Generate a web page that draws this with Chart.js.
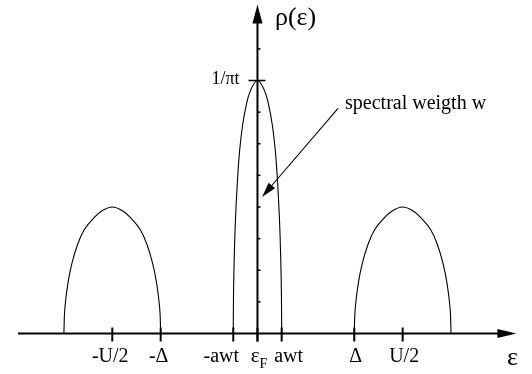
<!DOCTYPE html>
<html><head><meta charset="utf-8">
<script src="https://cdn.jsdelivr.net/npm/chart.js@4/dist/chart.umd.min.js"></script>
<style>html,body{margin:0;padding:0;background:#fff;} canvas{display:block}</style>
</head><body>
<canvas id="c" width="532" height="374"></canvas>
<script>
// ---- data (x in units of awt, y in units of 1/(pi t)) ----
const centralBandX = [-1.0, -0.99, -0.96, -0.91, -0.83, -0.74, -0.62, -0.47, -0.29, 0, 0.29, 0.47, 0.62, 0.74, 0.83, 0.91, 0.96, 0.99, 1.0];
const centralBandY = [0, 0.15, 0.3, 0.45, 0.6, 0.72, 0.82, 0.9, 0.96, 1.0, 0.96, 0.9, 0.82, 0.72, 0.6, 0.45, 0.3, 0.15, 0];
const lowerBandX = [-8.0, -7.96, -7.83, -7.66, -7.44, -7.16, -6.78, -6.42, -6.0, -5.58, -5.22, -4.84, -4.56, -4.34, -4.17, -4.04, -4.0];
const lowerBandY = [0, 0.1, 0.2, 0.28, 0.35, 0.41, 0.455, 0.485, 0.5, 0.485, 0.455, 0.41, 0.35, 0.28, 0.2, 0.1, 0];
const upperBandX = [4.0, 4.04, 4.17, 4.34, 4.56, 4.84, 5.22, 5.58, 6.0, 6.42, 6.78, 7.16, 7.44, 7.66, 7.83, 7.96, 8.0];
const upperBandY = [0, 0.1, 0.2, 0.28, 0.35, 0.41, 0.455, 0.485, 0.5, 0.485, 0.455, 0.41, 0.35, 0.28, 0.2, 0.1, 0];

const xTickValues = [-6, -4, -1, 0, 1, 4, 6];
const xTickLabels = ['-U/2', '-Δ', '-awt', 'ε_F', 'awt', 'Δ', 'U/2'];
const yTickValues = [1];
const yTickLabels = ['1/πt'];
const yMinorTickValues = [0.125, 0.25, 0.375, 0.5, 0.625, 0.75, 0.875, 1.125];
const xAxisTitle = 'ε';
const yAxisTitle = 'ρ(ε)';
const annotationText = 'spectral weigth w';

const toPts = (xs, ys) => xs.map((v, i) => ({x: v, y: ys[i]}));
const lineStyle = {borderColor: '#000', borderWidth: 1.1, pointRadius: 0, showLine: true, fill: false, tension: 0.4, cubicInterpolationMode: 'default'};

const SERIF = '"Liberation Serif", "DejaVu Serif", serif';

const axesPlugin = {
  id: 'axesPlugin',
  afterDatasetsDraw(chart) {
    const {ctx, scales: {x, y}} = chart;
    const x0 = x.getPixelForValue(0), y0 = y.getPixelForValue(0);
    const xl = x.getPixelForValue(x.min), xr = x.getPixelForValue(x.max);
    const yt = y.getPixelForValue(y.max);
    ctx.save();
    ctx.strokeStyle = '#000'; ctx.fillStyle = '#000';
    ctx.lineWidth = 2;
    // x axis with arrow
    ctx.beginPath(); ctx.moveTo(xl, y0); ctx.lineTo(xr - 12, y0); ctx.stroke();
    ctx.beginPath(); ctx.moveTo(xr, y0); ctx.lineTo(xr - 19, y0 - 4.5); ctx.lineTo(xr - 19, y0 + 4.5); ctx.closePath(); ctx.fill();
    // y axis with arrow
    ctx.beginPath(); ctx.moveTo(x0, y0 + 8); ctx.lineTo(x0, yt + 12); ctx.stroke();
    ctx.beginPath(); ctx.moveTo(x0, yt); ctx.lineTo(x0 - 5, yt + 19); ctx.lineTo(x0 + 5, yt + 19); ctx.closePath(); ctx.fill();
    // x ticks + labels
    ctx.lineWidth = 2;
    ctx.textBaseline = 'alphabetic';
    xTickValues.forEach((v, i) => {
      const px = x.getPixelForValue(v);
      ctx.beginPath(); ctx.moveTo(px, y0 - 6); ctx.lineTo(px, y0 + 8); ctx.stroke();
      const lab = xTickLabels[i];
      const by = y0 + 28;
      if (lab.includes('_')) {
        const [main, sub] = lab.split('_');
        ctx.font = '21px ' + SERIF;
        const w1 = ctx.measureText(main).width;
        ctx.font = '14px ' + SERIF;
        const w2 = ctx.measureText(sub).width;
        const start = px + 1.5 - (w1 + w2) / 2;
        ctx.textAlign = 'left';
        ctx.font = '21px ' + SERIF; ctx.fillText(main, start, by);
        ctx.font = '14px ' + SERIF; ctx.fillText(sub, start + w1, by + 6);
      } else {
        ctx.font = '20px ' + SERIF;
        let dx = -2;
        if (v === -1) dx = -12;
        if (v === 1) dx = 7;
        if (v > 1) dx = 1.5;
        ctx.textAlign = 'center';
        ctx.fillText(lab, px + dx, by);
      }
    });
    // y minor ticks
    ctx.lineWidth = 1.5;
    yMinorTickValues.forEach(v => {
      const py = y.getPixelForValue(v);
      ctx.beginPath(); ctx.moveTo(x0, py); ctx.lineTo(x0 + 3, py); ctx.stroke();
    });
    // y major ticks + labels
    yTickValues.forEach((v, i) => {
      const py = y.getPixelForValue(v);
      ctx.beginPath(); ctx.moveTo(x0 - 9, py); ctx.lineTo(x0 + 8, py); ctx.stroke();
      ctx.font = '18px ' + SERIF; ctx.textAlign = 'right';
      ctx.fillText(yTickLabels[i], x0 - 18, py + 3.5);
    });
    // axis titles
    ctx.font = '26px ' + SERIF;
    ctx.textAlign = 'left';
    ctx.fillText(yAxisTitle, x0 + 17.5, yt + 20);
    ctx.textAlign = 'center';
    ctx.fillText(xAxisTitle, xr - 4, y0 + 31);
    // annotation with arrow
    const ax0 = x.getPixelForValue(3.33), ay0 = y.getPixelForValue(0.89);
    const ax1 = x.getPixelForValue(0.19), ay1 = y.getPixelForValue(0.54);
    ctx.lineWidth = 1.1;
    const ang = Math.atan2(ay1 - ay0, ax1 - ax0);
    const L = 15, H = 4.2;
    const bx = ax1 - L * Math.cos(ang), byy = ay1 - L * Math.sin(ang);
    ctx.beginPath(); ctx.moveTo(ax0, ay0); ctx.lineTo(bx, byy); ctx.stroke();
    ctx.beginPath();
    ctx.moveTo(ax1, ay1);
    ctx.lineTo(bx + H * Math.sin(ang), byy - H * Math.cos(ang));
    ctx.lineTo(bx - H * Math.sin(ang), byy + H * Math.cos(ang));
    ctx.closePath(); ctx.fill();
    ctx.font = '20px ' + SERIF; ctx.textAlign = 'left';
    ctx.fillText(annotationText, ax0 + 7, ay0 + 1);
    ctx.restore();
  }
};

new Chart(document.getElementById('c'), {
  type: 'scatter',
  data: {
    datasets: [
      Object.assign({label: 'lower band', data: toPts(lowerBandX, lowerBandY)}, lineStyle),
      Object.assign({label: 'central band', data: toPts(centralBandX, centralBandY)}, lineStyle),
      Object.assign({label: 'upper band', data: toPts(upperBandX, upperBandY)}, lineStyle)
    ]
  },
  options: {
    responsive: false,
    animation: false,
    devicePixelRatio: 1,
    layout: {padding: {left: 17.9, right: 15.6, top: 4.6, bottom: 40.5}},
    plugins: {legend: {display: false}, tooltip: {enabled: false}, title: {display: false}},
    scales: {
      x: {type: 'linear', display: false, min: -9.9, max: 10.7},
      y: {type: 'linear', display: false, min: 0, max: 1.3}
    }
  },
  plugins: [axesPlugin]
});
</script>
</body></html>
